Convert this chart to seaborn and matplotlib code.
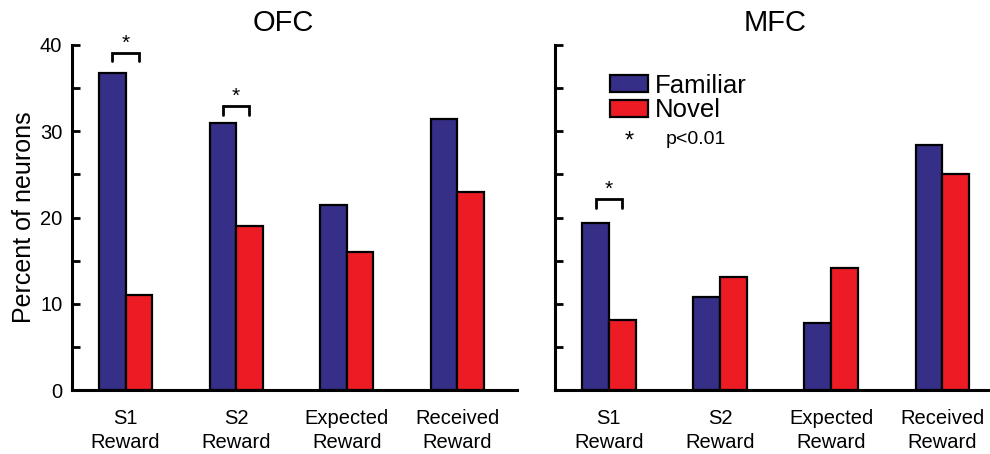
import matplotlib
matplotlib.use("Agg")
import matplotlib.pyplot as plt
import seaborn as sns
import pandas as pd
from matplotlib.patches import Patch

categories = ["S1\nReward", "S2\nReward", "Expected\nReward", "Received\nReward"]
conditions = ["Familiar", "Novel"]
ofc_familiar = [36.8, 31.0, 21.4, 31.4]
ofc_novel = [11.0, 19.0, 16.0, 23.0]
mfc_familiar = [19.4, 10.8, 7.8, 28.4]
mfc_novel = [8.1, 13.1, 14.1, 25.1]
# significance brackets: (category index, bracket height)
ofc_sig = [(0, 39.1), (1, 32.9)]
mfc_sig = [(0, 22.1)]

colors = {"Familiar": "#352F87", "Novel": "#ED1C24"}

sns.set_theme(style="white")
plt.rcParams['font.family'] = ['Liberation Sans', 'DejaVu Sans']
plt.rcParams['text.color'] = 'black'
plt.rcParams['axes.labelcolor'] = 'black'
plt.rcParams['xtick.color'] = 'black'
plt.rcParams['ytick.color'] = 'black'

def make_df(fam, nov):
    rows = []
    for c, f, n in zip(categories, fam, nov):
        rows.append({"cat": c, "cond": "Familiar", "val": f})
        rows.append({"cat": c, "cond": "Novel", "val": n})
    return pd.DataFrame(rows)

fig = plt.figure(figsize=(9.9, 4.54), dpi=100)
W, H = 990, 454
ax1 = fig.add_axes([72 / W, (H - 390) / H, (517 - 72) / W, (390 - 45) / H])
ax2 = fig.add_axes([555 / W, (H - 390) / H, (990 - 555) / W, (390 - 45) / H])

bw = 0.48
for ax, fam, nov, sig, title, tx, xr in [
        (ax1, ofc_familiar, ofc_novel, ofc_sig, "OFC", 0.474, 3.54),
        (ax2, mfc_familiar, mfc_novel, mfc_sig, "MFC", 0.506, 3.43)]:
    df = make_df(fam, nov)
    sns.barplot(data=df, x="cat", y="val", hue="cond", hue_order=conditions,
                palette=colors, width=bw, edgecolor="black", linewidth=1.6,
                saturation=1, ax=ax, legend=False, errorbar=None)
    ax.set_xlim(-0.485, xr)
    ax.set_ylim(0, 40)
    ax.set_yticks(range(0, 41, 10))
    ax.set_yticks(range(0, 41, 5), minor=True)
    for s in ["top", "right"]:
        ax.spines[s].set_visible(False)
    for s in ["left", "bottom"]:
        ax.spines[s].set_linewidth(2.2)
        ax.spines[s].set_color("black")
    ax.tick_params(axis="y", which="both", direction="in", length=6, width=2,
                   color="black", labelcolor="black", labelsize=14.5, pad=7,
                   left=True)
    ax.tick_params(axis="x", length=0, labelsize=14.5, pad=14,
                   labelcolor="black")
    for lab in ax.get_xticklabels():
        lab.set_linespacing(1.3)
    ax.set_xlabel("")
    ax.set_ylabel("")
    ax.text(tx, 1.064, title, transform=ax.transAxes, ha="center", va="center",
            fontsize=21, color="black")
    for ci, h in sig:
        x0, x1 = ci - bw / 4, ci + bw / 4
        ax.plot([x0, x0, x1, x1], [h - 1.0, h, h, h - 1.0], color="black",
                lw=2, clip_on=False, solid_joinstyle="miter")
        ax.text(ci, h + 0.05, "*", ha="center", va="bottom", fontsize=15,
                clip_on=False, color="black")

ax1.set_ylabel("Percent of neurons", fontsize=18, labelpad=3, color="black")
ax2.set_yticklabels([])

handles = [Patch(facecolor=colors[c], edgecolor="black", linewidth=1.6, label=c)
           for c in conditions]
leg = ax2.legend(handles=handles, loc="upper left", bbox_to_anchor=(0.126, 0.917),
                 frameon=False, fontsize=18.5, handlelength=1.5, handleheight=0.65,
                 handletextpad=0.25, labelspacing=0.02, borderpad=0,
                 borderaxespad=0)
for t in leg.get_texts():
    t.set_color("black")
ax2.text((629 - 555) / 435, (390 - 142) / 345, "*", transform=ax2.transAxes,
         ha="center", va="center", fontsize=17, color="black")
ax2.text((666 - 555) / 435, (390 - 139) / 345, "p<0.01", transform=ax2.transAxes,
         ha="left", va="center", fontsize=14, color="black")

fig.savefig("out.png", dpi=100)
